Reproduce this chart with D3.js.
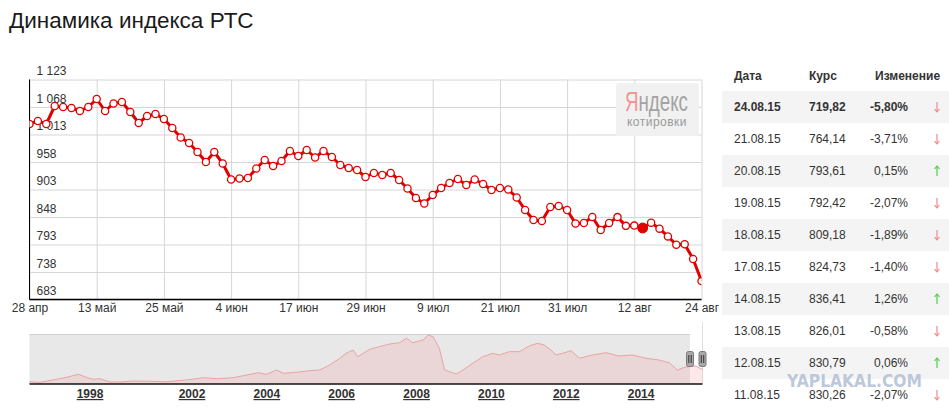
<!DOCTYPE html>
<html lang="ru">
<head>
<meta charset="utf-8">
<title>Динамика индекса РТС</title>
<script src="https://cdn.jsdelivr.net/npm/d3@7.9.0/dist/d3.min.js"></script>
<style>
  html, body { margin: 0; padding: 0; background: #fff; }
  svg { display: block; font-family: Arial, "Liberation Sans", sans-serif; }
</style>
</head>
<body>
<svg id="chart" width="949" height="409"></svg>
<script>
/* ──── data ──── */
// trading days, 28.04.15 … 24.08.15
const days = [
  '28.04.15','29.04.15','30.04.15','05.05.15','06.05.15','07.05.15','08.05.15','12.05.15','13.05.15',
  '14.05.15','15.05.15','18.05.15','19.05.15','20.05.15','21.05.15','22.05.15','25.05.15',
  '26.05.15','27.05.15','28.05.15','29.05.15','01.06.15','02.06.15','03.06.15','04.06.15',
  '05.06.15','08.06.15','09.06.15','10.06.15','11.06.15','15.06.15','16.06.15','17.06.15',
  '18.06.15','19.06.15','22.06.15','23.06.15','24.06.15','25.06.15','26.06.15','29.06.15',
  '30.06.15','01.07.15','02.07.15','03.07.15','06.07.15','07.07.15','08.07.15','09.07.15',
  '10.07.15','13.07.15','14.07.15','15.07.15','16.07.15','17.07.15','20.07.15','21.07.15',
  '22.07.15','23.07.15','24.07.15','27.07.15','28.07.15','29.07.15','30.07.15','31.07.15',
  '03.08.15','04.08.15','05.08.15','06.08.15','07.08.15','10.08.15','11.08.15','12.08.15',
  '13.08.15','14.08.15','17.08.15','18.08.15','19.08.15','20.08.15','21.08.15','24.08.15'
];
const closes = [
  1034, 1040, 1034, 1070, 1068, 1066, 1060, 1068, 1084,
  1060, 1075, 1078, 1058, 1036, 1050, 1054, 1044,
  1026, 1007, 996, 978, 958, 978, 955, 923,
  925, 926, 945, 962, 950, 960, 980, 970,
  982, 967, 980, 968, 952, 946, 942, 928,
  936, 932, 936, 922, 905, 886, 875, 892,
  906, 916, 924, 912, 923, 914, 902, 906,
  903, 887, 862, 842, 840, 868, 870, 862,
  835, 836, 848, 822, 836, 847.8, 830.26, 830.79,
  826.01, 836.41, 824.73, 809.18, 792.42, 793.61, 764.14, 719.82
];
const tickDays   = ['28.04.15','13.05.15','25.05.15','04.06.15','17.06.15','29.06.15',
                    '09.07.15','21.07.15','31.07.15','12.08.15','24.08.15'];
const tickLabels = ['28 апр','13 май','25 май','4 июн','17 июн','29 июн',
                    '9 июл','21 июл','31 июл','12 авг','24 авг'];
const yTicks     = [683, 738, 793, 848, 903, 958, 1013, 1068, 1123];
const activeDay  = '13.08.15';

// table on the right (latest first)
const tableChange = [-5.80, -3.71, 0.15, -2.07, -1.89, -1.40, 1.26, -0.58, 0.06, -2.07];

// navigator: whole history of the index
const navYears  = [1996.40, 1996.68, 1997.03, 1997.38, 1997.69, 1997.91, 1998.13, 1998.39, 1998.78,
                   1999.18, 1999.70, 2000.35, 2001.01, 2001.79, 2002.30, 2002.66, 2003.10, 2003.46,
                   2003.77, 2003.99, 2004.26, 2004.44, 2004.79, 2005.06, 2005.41, 2005.68, 2005.95,
                   2006.12, 2006.30, 2006.43, 2006.75, 2007.01, 2007.28, 2007.55, 2007.73, 2007.90,
                   2008.17, 2008.31, 2008.44, 2008.61, 2008.75, 2008.88, 2009.06, 2009.24, 2009.50,
                   2009.77, 2010.04, 2010.21, 2010.48, 2010.75, 2011.01, 2011.23, 2011.41, 2011.59,
                   2011.72, 2011.90, 2012.13, 2012.35, 2012.70, 2013.06, 2013.41, 2013.77, 2014.13,
                   2014.48, 2014.75, 2014.97, 2015.15, 2015.28, 2015.46, 2015.64];
const navValues = [115, 85, 200, 333, 483, 333, 234, 264, 100,
                   100, 150, 134, 115, 200, 314, 264, 314, 448,
                   563, 483, 697, 533, 583, 647, 697, 946, 1280,
                   1529, 1693, 1360, 1728, 1860, 1992, 2057, 2275, 2057,
                   2191, 2440, 2356, 1777, 697, 612, 498, 697, 1030,
                   1360, 1529, 1444, 1610, 1610, 1893, 2027, 1942, 1693,
                   1444, 1529, 1660, 1280, 1444, 1560, 1395, 1444, 1280,
                   1195, 1062, 697, 830, 863, 896, 720];
const navLabels = [1998, 2002, 2004, 2006, 2008, 2010, 2012, 2014];

/* ──── helpers ──── */
const ru   = d3.formatLocale({ decimal: ',', thousands: ' ', grouping: [3], currency: ['', ''], minus: '-' });
const fInt = ru.format(',');
const fVal = ru.format(',.2f');
const fPct = v => ru.format('.2f')(v) + '%';

const svg = d3.select('#chart');
const RED = '#e00000';

/* ──── title ──── */
svg.append('text')
   .attr('x', 9).attr('y', 27.5)
   .attr('font-size', 22.5).attr('fill', '#1a1a1a')
   .text('Динамика индекса РТС');

/* ──── main chart ──── */
const plot = { left: 29.5, right: 701.5, top: 79.5, bottom: 299.5 };

const x = d3.scalePoint().domain(days).range([plot.left, plot.right]);
const y = d3.scaleLinear().domain([683, 1123]).range([plot.bottom, plot.top]);

// horizontal grid + labels sitting on the lines
const gy = svg.append('g')
  .attr('transform', `translate(${plot.left},0)`)
  .style('color', '#333')
  .call(d3.axisLeft(y).tickValues(yTicks).tickSize(-(plot.right - plot.left)).tickFormat(fInt));
gy.select('.domain').remove();
gy.selectAll('.tick line').attr('stroke', '#d6d6d6');
gy.selectAll('.tick text')
  .attr('x', 7).attr('dy', -5)
  .attr('text-anchor', 'start')
  .attr('font-size', 12).attr('font-family', null);

// vertical grid + date labels
const gx = svg.append('g')
  .attr('transform', `translate(0,${plot.bottom})`)
  .style('color', '#333')
  .call(d3.axisBottom(x).tickValues(tickDays).tickSize(-(plot.bottom - plot.top))
          .tickPadding(4).tickFormat((d, i) => tickLabels[i]));
gx.select('.domain').remove();
gx.selectAll('.tick line').attr('stroke', '#d6d6d6');
gx.selectAll('.tick text').attr('font-size', 12).attr('font-family', null);

// axis lines
svg.append('line')
   .attr('x1', plot.left).attr('x2', plot.left)
   .attr('y1', plot.top).attr('y2', plot.bottom)
   .attr('stroke', '#000');
svg.append('line')
   .attr('x1', plot.left).attr('x2', plot.right)
   .attr('y1', plot.bottom).attr('y2', plot.bottom)
   .attr('stroke', '#000').attr('stroke-width', 1.5);

// Yandex badge
const badge = svg.append('g');
badge.append('rect')
     .attr('x', 616).attr('y', 83).attr('width', 83).attr('height', 53)
     .attr('rx', 3).attr('fill', '#f1f1f1');
const logo = badge.append('text')
     .attr('x', 625).attr('y', 111)
     .attr('font-size', 27).attr('textLength', 63).attr('lengthAdjust', 'spacingAndGlyphs');
logo.append('tspan').attr('fill', '#f19595').text('Я');
logo.append('tspan').attr('fill', '#a3a3a3').text('ндекс');
badge.append('text')
     .attr('x', 657).attr('y', 126).attr('text-anchor', 'middle')
     .attr('font-size', 12).attr('fill', '#9a9a9a').attr('letter-spacing', 0.5)
     .text('котировки');

// line + dots
svg.append('clipPath').attr('id', 'plot-clip')
   .append('rect')
   .attr('x', plot.left).attr('y', plot.top - 10)
   .attr('width', plot.right - plot.left).attr('height', plot.bottom - plot.top + 10);

const series = days.map((d, i) => ({ day: d, close: closes[i] }));
const gLine  = svg.append('g').attr('clip-path', 'url(#plot-clip)');

gLine.append('path')
     .datum(series)
     .attr('fill', 'none')
     .attr('stroke', RED).attr('stroke-width', 3)
     .attr('stroke-linejoin', 'round')
     .attr('d', d3.line().x(d => x(d.day)).y(d => y(d.close)));

gLine.selectAll('circle')
     .data(series)
     .join('circle')
     .attr('cx', d => x(d.day))
     .attr('cy', d => y(d.close))
     .attr('r',  d => d.day === activeDay ? 4.8 : 3.6)
     .attr('fill', d => d.day === activeDay ? RED : '#fff')
     .attr('stroke', RED).attr('stroke-width', 1.3);

/* ──── table ──── */
const rows = days.slice(-10).reverse().map((d, i) => ({
  date: d,
  close: closes[closes.length - 1 - i],
  change: tableChange[i]
}));

const table = svg.append('g').attr('font-size', 12).attr('fill', '#333');
const head  = table.append('g').attr('font-weight', 'bold');
head.append('text').attr('x', 734).attr('y', 79.5).text('Дата');
head.append('text').attr('x', 809).attr('y', 79.5).text('Курс');
head.append('text').attr('x', 875).attr('y', 79.5).text('Изменение');

const row = table.selectAll('g.row')
  .data(rows)
  .join('g')
  .attr('class', 'row')
  .attr('transform', (d, i) => `translate(0,${91 + i * 32})`)
  .attr('font-weight', (d, i) => i === 0 ? 'bold' : null);

row.filter((d, i) => i % 2 === 0)
   .append('rect')
   .attr('x', 722).attr('width', 227).attr('height', 32)
   .attr('fill', '#f4f4f4');
row.append('text').attr('x', 734).attr('y', 20).text(d => d.date);
row.append('text').attr('x', 809).attr('y', 20).text(d => fVal(d.close));
row.append('text').attr('x', 908).attr('y', 20).attr('text-anchor', 'end').text(d => fPct(d.change));

// thin arrows: stem + small head
const arrow = row.append('g')
   .attr('transform', d => `translate(937,16) scale(1,${d.change < 0 ? 1 : -1})`)
   .attr('stroke', d => d.change < 0 ? '#ec8080' : '#3fd03f')
   .attr('fill', 'none').attr('stroke-width', 1.1);
arrow.append('line').attr('x1', 0).attr('x2', 0).attr('y1', -5).attr('y2', 4.5);
arrow.append('path').attr('d', 'M-2.5,2 L0,5 L2.5,2');

/* ──── navigator ──── */
const nav = { left: 29.5, right: 702.5, sel: 690, top: 334, bottom: 384 };

// the year scale is not even (fewer points before 2002)
const nx = d3.scaleLinear()
  .domain([1996.40, 1998, 2002, 2015.64])
  .range([nav.left, 90, 192, nav.right]);
const ny = d3.scaleLinear().domain([0, 2490]).range([nav.bottom, nav.top]);

const gNav = svg.append('g');
gNav.append('rect')
    .attr('x', nav.left).attr('y', nav.top)
    .attr('width', nav.sel - nav.left).attr('height', nav.bottom - nav.top)
    .attr('fill', '#e8e8e8');
gNav.append('line')
    .attr('x1', nav.left).attr('x2', nav.sel)
    .attr('y1', nav.top + 0.5).attr('y2', nav.top + 0.5)
    .attr('stroke', '#cfcfcf');
gNav.append('line')
    .attr('x1', nav.right).attr('x2', nav.right)
    .attr('y1', nav.top - 12).attr('y2', nav.bottom)
    .attr('stroke', '#e0e0e0');

const navSeries = navYears.map((t, i) => ({ t, v: navValues[i] }));
gNav.append('path')
    .datum(navSeries)
    .attr('fill', 'rgba(240,150,150,0.22)')
    .attr('d', d3.area().x(d => nx(d.t)).y0(nav.bottom).y1(d => ny(d.v)));
gNav.append('path')
    .datum(navSeries)
    .attr('fill', 'none').attr('stroke', '#eba3a3').attr('stroke-width', 1)
    .attr('d', d3.line().x(d => nx(d.t)).y(d => ny(d.v)));

gNav.append('line')
    .attr('x1', nav.left).attr('x2', nav.right)
    .attr('y1', nav.bottom).attr('y2', nav.bottom)
    .attr('stroke', '#111').attr('stroke-width', 1.5);

// window handles
const handle = gNav.selectAll('g.handle')
  .data([nav.sel, nav.right])
  .join('g')
  .attr('class', 'handle')
  .attr('transform', d => `translate(${d},359)`);
handle.append('rect')
      .attr('x', -3.5).attr('y', -7.5).attr('width', 7).attr('height', 15)
      .attr('rx', 2).attr('fill', '#a8a8a8').attr('stroke', '#7a7a7a');
handle.selectAll('line')
      .data([-1.2, 1.2])
      .join('line')
      .attr('x1', d => d).attr('x2', d => d)
      .attr('y1', -4).attr('y2', 4)
      .attr('stroke', '#333');

// year labels
gNav.selectAll('text.year')
    .data(navLabels)
    .join('text')
    .attr('class', 'year')
    .attr('x', d => nx(d)).attr('y', 398)
    .attr('text-anchor', 'middle')
    .attr('font-size', 12).attr('font-weight', 'bold')
    .attr('fill', '#333').attr('text-decoration', 'underline')
    .text(d => d);

/* ──── watermark ──── */
svg.append('text')
   .attr('x', 787).attr('y', 386.5)
   .attr('font-family', '"DejaVu Sans", sans-serif')
   .attr('font-size', 17).attr('font-weight', 'bold')
   .attr('textLength', 135).attr('lengthAdjust', 'spacingAndGlyphs')
   .attr('fill', '#b4c1d6').attr('fill-opacity', 0.9)
   .text('YAPLAKAL.COM');
</script>
</body>
</html>
